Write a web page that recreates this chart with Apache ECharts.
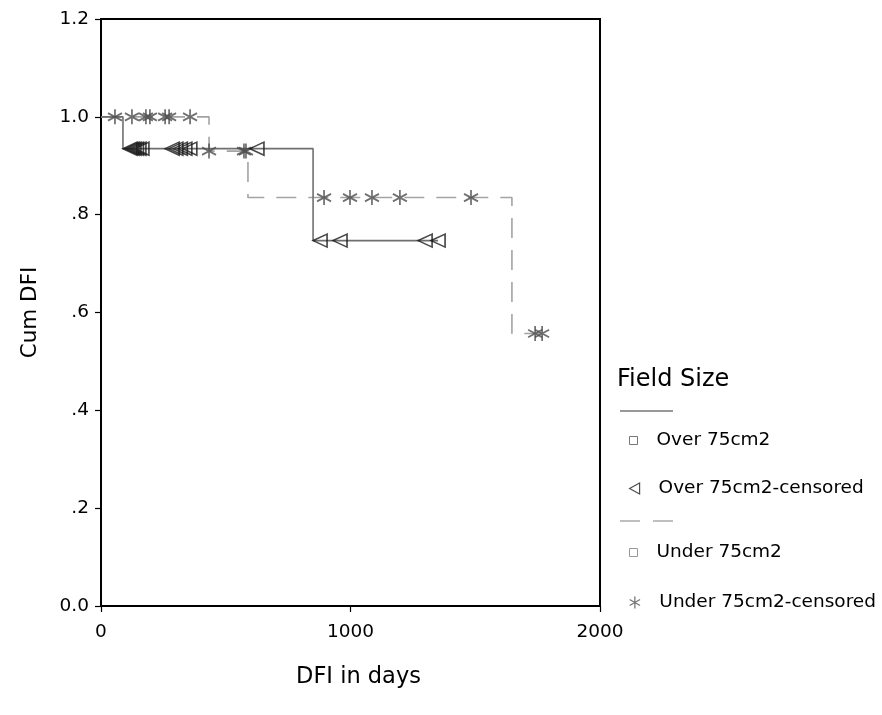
<!DOCTYPE html>
<html>
<head>
<meta charset="utf-8">
<script src="https://cdn.jsdelivr.net/npm/echarts@6/dist/echarts.min.js"></script>
<style>
html,body{margin:0;padding:0;background:#fff;}
#chart{width:882px;height:715px;}
</style>
</head>
<body>
<div id="chart"></div>
<script>
// ---- data ----
const yTickLabels = {0: '0.0', 0.2: '.2', 0.4: '.4', 0.6: '.6', 0.8: '.8', 1: '1.0', 1.2: '1.2'};

// Over 75cm2: Kaplan-Meier step curve
const overTimes = [0, 88, 850, 1351];
const overSurv  = [1.0, 0.935, 0.747, 0.747];
// Over 75cm2 censored cases
const overCensTimes = [116, 124, 132, 142, 152, 164, 285, 300, 318, 336, 356, 625, 878, 958, 1299, 1351];
const overCensSurv  = [0.935, 0.935, 0.935, 0.935, 0.935, 0.935, 0.935, 0.935, 0.935, 0.935, 0.935, 0.935, 0.747, 0.747, 0.747, 0.747];

// Under 75cm2: Kaplan-Meier step curve
const underTimes = [0, 433, 589, 1647, 1768];
const underSurv  = [1.0, 0.93, 0.835, 0.557, 0.557];
// Under 75cm2 censored cases
const underCensTimes = [56, 124, 180, 196, 257, 273, 357, 433, 573, 581, 894, 998, 1086, 1198, 1483, 1740, 1768];
const underCensSurv  = [1.0, 1.0, 1.0, 1.0, 1.0, 1.0, 1.0, 0.93, 0.93, 0.93, 0.835, 0.835, 0.835, 0.835, 0.835, 0.557, 0.557];

const seriesNames = ['Over 75cm2', 'Over 75cm2-censored', 'Under 75cm2', 'Under 75cm2-censored'];
const legendTitle = 'Field Size';
const xTitle = 'DFI in days';
const yTitle = 'Cum DFI';

// ---- chart ----
const zip = (a, b) => a.map((v, i) => [v, b[i]]);
const starPath = 'path://M0,-10L0,10M-8.66,-5L8.66,5M-8.66,5L8.66,-5';
const triPath = 'path://M10,0L0,5.5L10,11Z';
const FONT = '"DejaVu Sans", sans-serif';

const chart = echarts.init(document.getElementById('chart'), null, {renderer: 'canvas'});

function legendItem(name, top, icon, style, w, h) {
  return {
    data: [{name: name, icon: icon, itemStyle: style}],
    left: 624, top: top,
    orient: 'vertical',
    itemWidth: w, itemHeight: h,
    selectedMode: false,
    textStyle: {fontFamily: FONT, fontSize: 18.5, color: '#000', padding: [0, 0, 0, 14]}
  };
}

const option = {
  animation: false,
  backgroundColor: '#fff',
  grid: {left: 101, top: 19, width: 499, height: 587, show: true, borderColor: '#000', borderWidth: 2, backgroundColor: 'transparent'},
  xAxis: {
    type: 'value', min: 0, max: 2000, interval: 1000,
    name: xTitle, nameLocation: 'middle', nameGap: 60,
    nameTextStyle: {fontFamily: FONT, fontSize: 22.5, color: '#000', padding: [0, 0, 0, 16]},
    axisLine: {show: true, onZero: false, lineStyle: {color: '#000', width: 2}},
    axisTick: {show: true, inside: false, length: 6, lineStyle: {color: '#000', width: 1.2}},
    axisLabel: {fontFamily: FONT, fontSize: 18.5, color: '#000', margin: 17, formatter: v => String(v)},
    splitLine: {show: false}
  },
  yAxis: {
    type: 'value', min: 0, max: 1.2, interval: 0.2,
    name: yTitle, nameLocation: 'middle', nameGap: 60, nameRotate: 90,
    nameTextStyle: {fontFamily: FONT, fontSize: 21.5, color: '#000'},
    axisLine: {show: true, onZero: false, lineStyle: {color: '#000', width: 2}},
    axisTick: {show: true, inside: false, length: 6, lineStyle: {color: '#000', width: 1.2}},
    axisLabel: {fontFamily: FONT, fontSize: 18.5, color: '#000', margin: 12,
      formatter: v => { const k = Math.round(v * 10) / 10; return yTickLabels[k] !== undefined ? yTickLabels[k] : ''; }},
    splitLine: {show: false}
  },
  legend: [
    legendItem(seriesNames[0], 426, 'rect', {color: '#fff', borderColor: '#777', borderWidth: 1}, 8, 8),
    legendItem(seriesNames[1], 474, triPath, {color: 'rgba(0,0,0,0)', borderColor: '#222', borderWidth: 1.2}, 10, 11),
    legendItem(seriesNames[2], 538, 'rect', {color: '#fff', borderColor: '#999', borderWidth: 1}, 8, 8),
    legendItem(seriesNames[3], 588, starPath, {color: 'rgba(0,0,0,0)', borderColor: '#555', borderWidth: 1.3}, 11, 12)
  ],
  graphic: [
    {type: 'text', left: 617, top: 368, style: {text: legendTitle, font: '24px ' + FONT, fill: '#000'}},
    {type: 'line', shape: {x1: 620, y1: 411, x2: 673, y2: 411}, style: {stroke: '#777', lineWidth: 1.5}},
    {type: 'line', shape: {x1: 620, y1: 521, x2: 673, y2: 521}, style: {stroke: '#aaa', lineWidth: 1.5, lineDash: [20, 13]}}
  ],
  series: [
    {
      name: seriesNames[0], type: 'line', step: 'end', data: zip(overTimes, overSurv),
      showSymbol: false, symbol: 'none', z: 3,
      lineStyle: {color: '#6f6f6f', width: 1.6},
      itemStyle: {color: '#777'}
    },
    {
      name: seriesNames[1], type: 'scatter', data: zip(overCensTimes, overCensSurv),
      symbol: triPath, symbolSize: [14, 13], z: 5,
      itemStyle: {color: 'rgba(0,0,0,0)', borderColor: '#1a1a1a', borderWidth: 1.6}
    },
    {
      name: seriesNames[2], type: 'line', step: 'end', data: zip(underTimes, underSurv),
      showSymbol: false, symbol: 'none', z: 2,
      lineStyle: {color: '#a3a3a3', width: 1.6, type: [20, 12]},
      itemStyle: {color: '#999'}
    },
    {
      name: seriesNames[3], type: 'scatter', data: zip(underCensTimes, underCensSurv),
      symbol: starPath, symbolSize: [14, 15], z: 4,
      itemStyle: {color: 'rgba(0,0,0,0)', borderColor: '#4c4c4c', borderWidth: 1.8}
    }
  ]
};
chart.setOption(option);
</script>
</body>
</html>
